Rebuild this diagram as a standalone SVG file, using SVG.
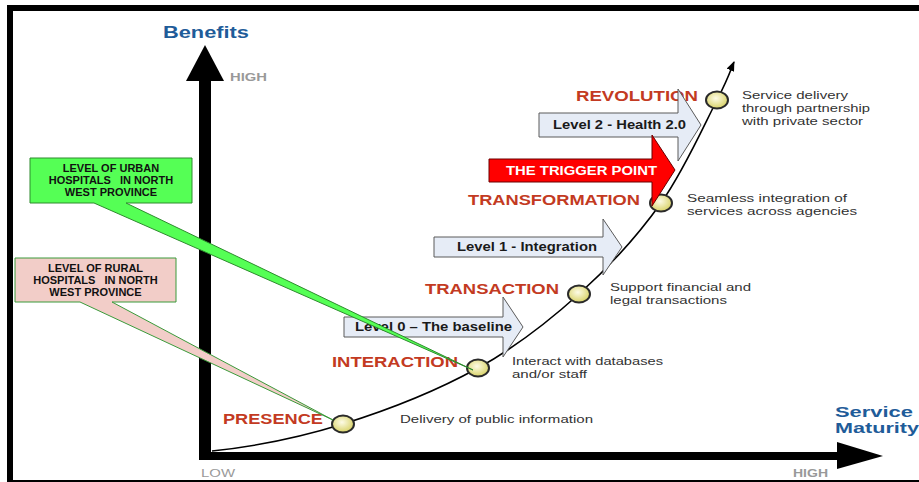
<svg xmlns="http://www.w3.org/2000/svg" width="919" height="482" viewBox="0 0 919 482">
<style>
.axt{font-family:"Liberation Sans",Arial,sans-serif;font-weight:bold;font-size:17px;fill:#1f5c99}
.axs{font-family:"Liberation Sans",Arial,sans-serif;font-weight:bold;font-size:15px;fill:#1f5c99}
.hl{font-family:"Liberation Sans",Arial,sans-serif;font-size:10px;fill:#999}
.stage{font-family:"Liberation Sans",Arial,sans-serif;font-weight:bold;font-size:14px;fill:#c33a22}
.desc{font-family:"Liberation Sans",Arial,sans-serif;font-size:11px;fill:#333}
.lvl{font-family:"Liberation Sans",Arial,sans-serif;font-weight:bold;font-size:13px;fill:#1a1a1a}
.lvlarrow{fill:#e6ecf6;stroke:#5a5a5a;stroke-width:1}
.node{fill:url(#ng);stroke:#2a2a2a;stroke-width:2}
.co{font-family:"Liberation Sans",Arial,sans-serif;font-weight:bold;font-size:11px;fill:#111;text-anchor:middle}
</style>
<defs>
<radialGradient id="ng" cx="0.45" cy="0.4" r="0.6">
<stop offset="0" stop-color="#fdfbe6"/>
<stop offset="1" stop-color="#d8d266"/>
</radialGradient>
<marker id="tip" markerUnits="userSpaceOnUse" markerWidth="10" markerHeight="8" refX="9" refY="4" orient="auto">
<path d="M0,0 L10,4 L0,8 Z" fill="#000"/>
</marker>
</defs>
<rect width="919" height="482" fill="#fff"/>
<g id="frame" fill="#000">
<rect x="7" y="5" width="912" height="6"/>
<rect x="7" y="5" width="6" height="477"/>
<rect x="7" y="480" width="912" height="2"/>
</g>
<g id="axes">
<rect x="199" y="78" width="12" height="382" fill="#000"/>
<polygon points="205,45 224,81 186,81" fill="#000"/>
<rect x="199" y="452" width="640" height="8" fill="#000"/>
<polygon points="837,442 883,456 837,469" fill="#000"/>
<text class="axt" x="163" y="38" textLength="86" lengthAdjust="spacingAndGlyphs">Benefits</text>
<text class="hl" x="230" y="81" font-weight="bold" textLength="37" lengthAdjust="spacingAndGlyphs">HIGH</text>
<text class="hl" x="201" y="477" textLength="34" lengthAdjust="spacingAndGlyphs">LOW</text>
<text class="hl" x="793" y="477" font-weight="bold" textLength="35" lengthAdjust="spacingAndGlyphs">HIGH</text>
<text class="axs" x="835" y="417" textLength="78" lengthAdjust="spacingAndGlyphs">Service</text>
<text class="axs" x="835" y="433" textLength="84" lengthAdjust="spacingAndGlyphs">Maturity</text>
</g>
<g id="connectors">
<path d="M212,451 C260,446 298.7,437.8 343,424 C387.3,410.2 438.7,389.7 478,368 C517.3,346.3 548.5,321.5 579,294 C609.5,266.5 638,235.3 661,203 C684,170.7 704.8,123.5 717,100 C729.2,76.5 731.2,68.3 734,62" fill="none" stroke="#000" stroke-width="1.6" marker-end="url(#tip)"/>
</g>
<g id="presence">
<text class="stage" x="223" y="424" textLength="100" lengthAdjust="spacingAndGlyphs">PRESENCE</text>
<ellipse class="node" cx="343" cy="424" rx="11" ry="8.5"/>
<text class="desc" x="400" y="423" textLength="193" lengthAdjust="spacingAndGlyphs">Delivery of public information</text>
</g>
<g id="interaction">
<text class="stage" x="332" y="367" textLength="126" lengthAdjust="spacingAndGlyphs">INTERACTION</text>
<ellipse class="node" cx="478" cy="368" rx="11" ry="8.5"/>
<text class="desc" x="512" y="365" textLength="151" lengthAdjust="spacingAndGlyphs">Interact with databases</text>
<text class="desc" x="512" y="378" textLength="75" lengthAdjust="spacingAndGlyphs">and/or staff</text>
</g>
<g id="transaction">
<text class="stage" x="425" y="294" textLength="134" lengthAdjust="spacingAndGlyphs">TRANSACTION</text>
<ellipse class="node" cx="579" cy="294" rx="11" ry="8.5"/>
<text class="desc" x="610" y="291" textLength="141" lengthAdjust="spacingAndGlyphs">Support financial and</text>
<text class="desc" x="610" y="304" textLength="117" lengthAdjust="spacingAndGlyphs">legal transactions</text>
</g>
<g id="transformation">
<text class="stage" x="468" y="205" textLength="172" lengthAdjust="spacingAndGlyphs">TRANSFORMATION</text>
<ellipse class="node" cx="661" cy="203" rx="11" ry="8.5"/>
<text class="desc" x="687" y="202" textLength="160" lengthAdjust="spacingAndGlyphs">Seamless integration of</text>
<text class="desc" x="687" y="215" textLength="170" lengthAdjust="spacingAndGlyphs">services across agencies</text>
</g>
<g id="revolution">
<text class="stage" x="576" y="101" textLength="122" lengthAdjust="spacingAndGlyphs">REVOLUTION</text>
<ellipse class="node" cx="717" cy="100" rx="11" ry="8.5"/>
<text class="desc" x="742" y="99" textLength="106" lengthAdjust="spacingAndGlyphs">Service delivery</text>
<text class="desc" x="742" y="112" textLength="128" lengthAdjust="spacingAndGlyphs">through partnership</text>
<text class="desc" x="742" y="125" textLength="121" lengthAdjust="spacingAndGlyphs">with private sector</text>
</g>
<g id="level0">
<polygon class="lvlarrow" points="344,317 503,317 503,297 523,327 503,357 503,337 344,337"/>
<text class="lvl" x="355" y="331" textLength="157" lengthAdjust="spacingAndGlyphs">Level 0 – The baseline</text>
</g>
<g id="level1">
<polygon class="lvlarrow" points="434,237 603,237 603,219 622,247 603,275 603,257 434,257"/>
<text class="lvl" x="457" y="251" textLength="140" lengthAdjust="spacingAndGlyphs">Level 1 - Integration</text>
</g>
<g id="level2">
<polygon class="lvlarrow" points="539,113 678,113 678,89 701,125 678,161 678,137 539,137"/>
<text class="lvl" x="553" y="129" textLength="133" lengthAdjust="spacingAndGlyphs">Level 2 - Health 2.0</text>
</g>
<g id="trigger">
<polygon points="489,159 652,159 652,135 675,170 652,206 652,182 489,182" fill="#ff0000" stroke="#6a0000" stroke-width="1"/>
<text x="506" y="175" font-family="Liberation Sans, Arial, sans-serif" font-weight="bold" font-size="12" fill="#fff" textLength="151" lengthAdjust="spacingAndGlyphs">THE TRIGGER POINT</text>
</g>
<g id="urban-callout">
<path d="M30,158 H192 V203 H126 L473,370 L94,203 H30 Z" fill="#55ff55" stroke="#2e8b2e" stroke-width="1"/>
<text class="co" x="111" y="172">LEVEL OF URBAN</text>
<text class="co" x="111" y="184" xml:space="preserve">HOSPITALS   IN NORTH</text>
<text class="co" x="111" y="196">WEST PROVINCE</text>
</g>
<g id="rural-callout">
<path d="M15,258 H176 V302 H112 L333,420 L80,302 H15 Z" fill="#f2cdc8" stroke="#3a9a3a" stroke-width="1"/>
<text class="co" x="95.5" y="272">LEVEL OF RURAL</text>
<text class="co" x="95.5" y="284" xml:space="preserve">HOSPITALS   IN NORTH</text>
<text class="co" x="95.5" y="296">WEST PROVINCE</text>
</g>
</svg>
